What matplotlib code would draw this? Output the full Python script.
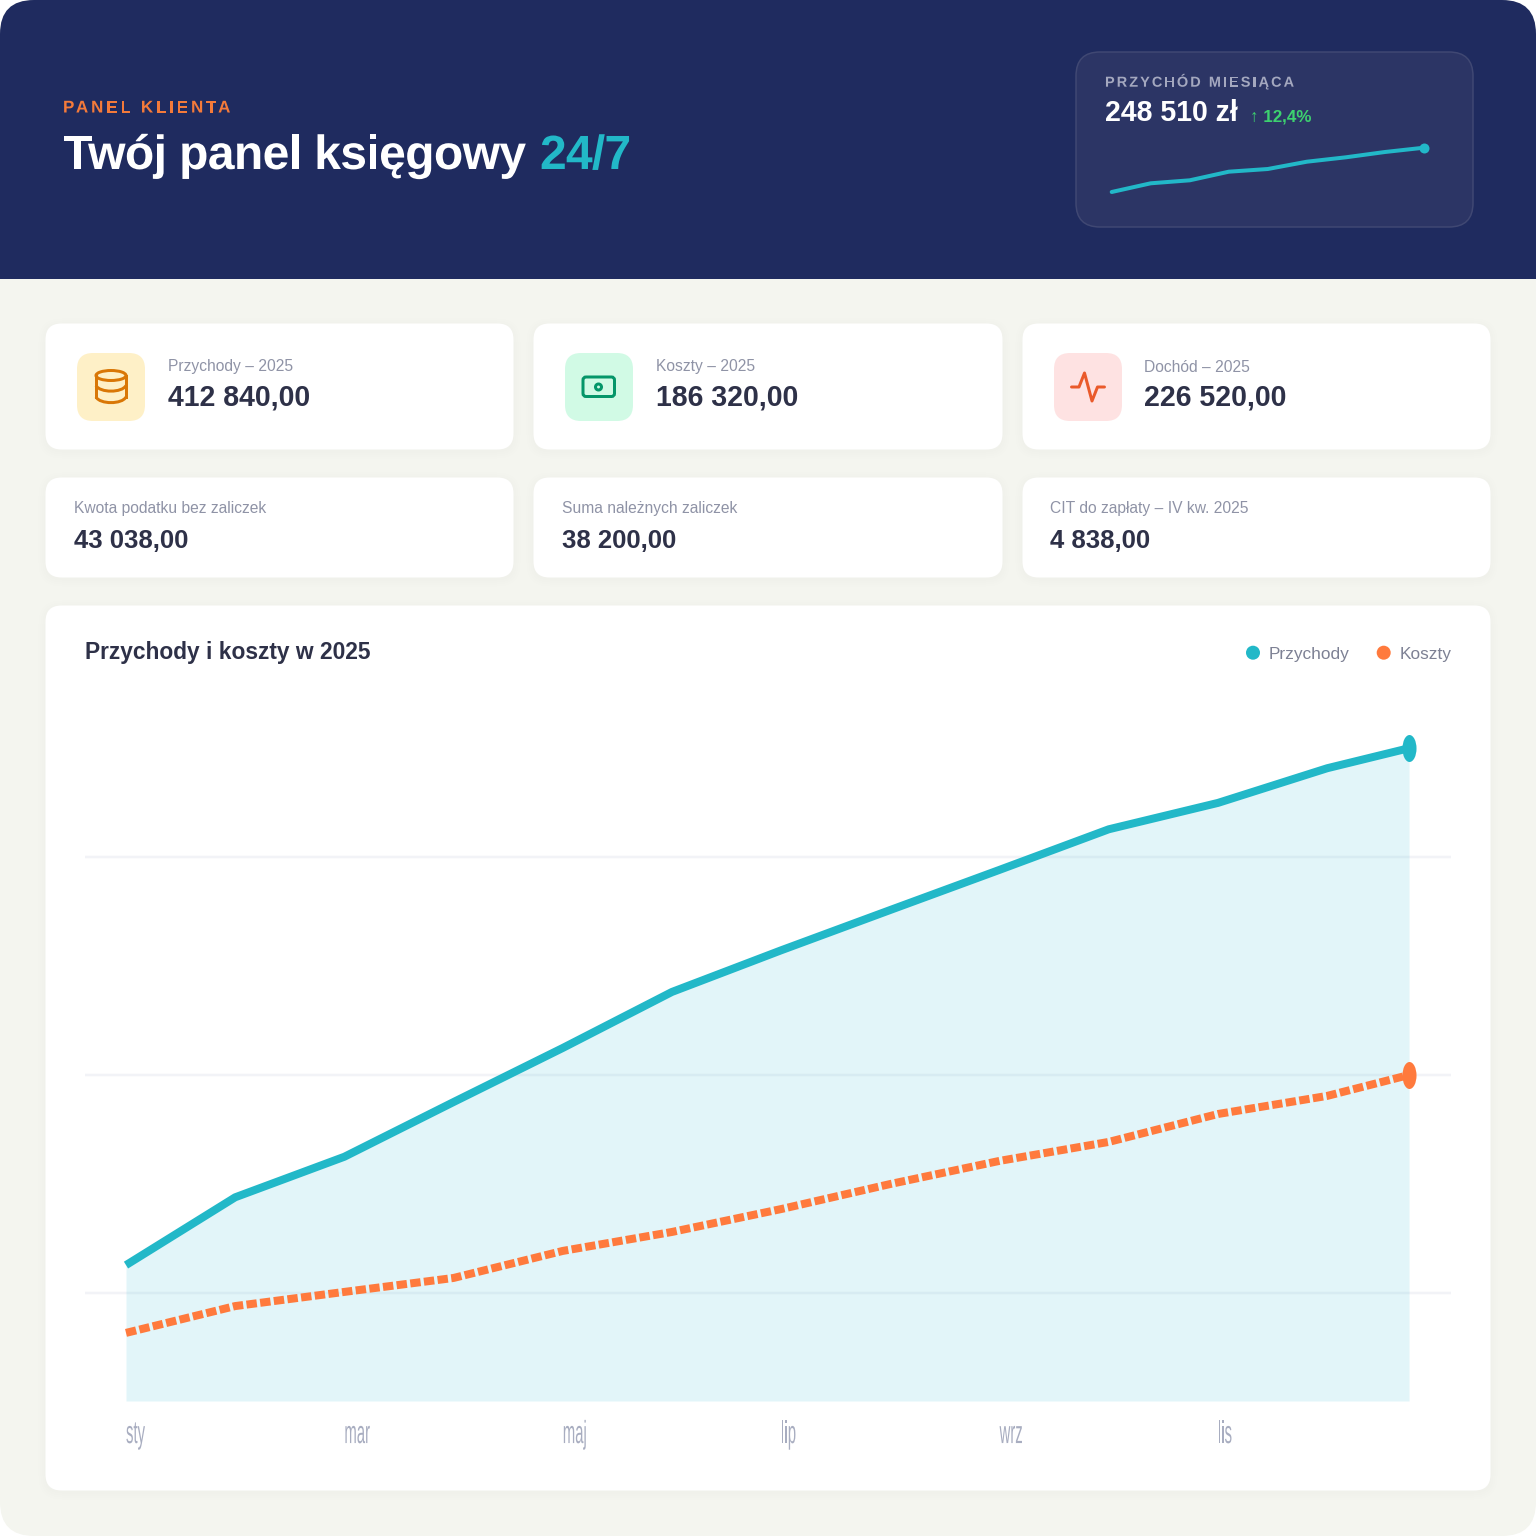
import matplotlib
matplotlib.use("Agg")
import matplotlib.pyplot as plt
from matplotlib.patches import Circle, Ellipse, FancyBboxPatch, PathPatch, Rectangle
from matplotlib.path import Path
from matplotlib.text import Text
from matplotlib.textpath import TextPath, TextToPath
from matplotlib.transforms import Affine2D

plt.rcParams["font.family"] = ["Liberation Sans", "DejaVu Sans"]

# main chart: month number, last point sits just past grudzien
month_pos = [0, 1, 2, 3, 4, 5, 6, 7, 8, 9, 10, 11, 11.75]
przychody = [112.8, 143.9, 162.5, 187.6, 212.4, 238.1, 257.2, 275.7, 294.1, 312.7, 324.8, 340.7, 349.9]
koszty = [81.7, 94.0, 100.5, 106.9, 119.3, 128.0, 138.5, 150.0, 160.6, 169.3, 182.1, 190.4, 200.0]
grid_values = [100, 200, 300]
tick_pos = [0, 2, 4, 6, 8, 10]
tick_labels = ["sty", "mar", "maj", "lip", "wrz", "lis"]

# header sparkline
spark_pos = [0, 1, 2, 3, 4, 5, 6, 7, 8]
spark_values = [204.2, 212.9, 215.9, 224.5, 227.2, 234.5, 238.9, 244.2, 248.5]

top_labels = ["Przychody – 2025", "Koszty – 2025", "Dochód – 2025"]
top_values = ["412 840,00", "186 320,00", "226 520,00"]
low_labels = ["Kwota podatku bez zaliczek", "Suma należnych zaliczek", "CIT do zapłaty – IV kw. 2025"]
low_values = ["43 038,00", "38 200,00", "4 838,00"]

NAVY = "#1f2b5f"
TEAL = "#22b8c8"
ORANGE = "#ff7a3d"
DARK = "#2e3148"
GREY = "#8f93a6"
PAGE = "#f4f5ef"


def px(n):
    # css pixels to points at dpi 100
    return n * 0.72


class LabelText(Text):
    # text with letter spacing and horizontal squeeze, both missing in Text
    tracking = 0
    squeeze = 1

    def draw(self, renderer):
        prop = self.get_fontproperties()
        x, y = self.get_transform().transform(self.get_position())
        k = self.get_figure().dpi / 72
        gc = renderer.new_gc()
        gc.set_linewidth(0)
        measure = TextToPath()
        s = self.get_text()
        for i, ch in enumerate(s):
            if ch == " ":
                continue
            adv = measure.get_text_width_height_descent(s[:i + 1], prop, False)[0]
            adv -= measure.get_text_width_height_descent(ch, prop, False)[0]
            path = TextPath((0, 0), ch, prop=prop)
            pen = x + (adv * k + i * self.tracking) * self.squeeze
            tr = Affine2D().scale(k * self.squeeze, k).translate(pen, y)
            renderer.draw_path(gc, path, tr, matplotlib.colors.to_rgba(self.get_color()))
        gc.restore()


def label(ax, x, y, s, size, color, weight="normal", tracking=0, squeeze=1, transform=None):
    t = LabelText(x, y, s, fontsize=px(size), color=color, fontweight=weight, va="baseline")
    t.tracking = tracking
    t.squeeze = squeeze
    if transform is not None:
        t.set_transform(transform)
    ax.add_artist(t)
    return t


def text(ax, x, y, s, size, color, weight="normal"):
    ax.text(x, y, s, fontsize=px(size), color=color, fontweight=weight, va="baseline")


def box(ax, x0, y0, x1, y1, r, **kw):
    patch = FancyBboxPatch(
        (x0, y0), x1 - x0, y1 - y0,
        boxstyle=f"round,pad=0,rounding_size={r}",
        mutation_aspect=1,
        **kw
    )
    ax.add_patch(patch)
    return patch


def card(ax, x0, y0, x1, y1):
    for grow in [7, 5, 3, 1]:
        box(ax, x0 - grow, y0 - grow + 2, x1 + grow, y1 + grow + 2, 16 + grow,
            fc="#1f2b5f", ec="none", alpha=0.005)
    box(ax, x0, y0, x1, y1, 16, fc="white", ec="none")


fig = plt.figure(figsize=(15.36, 15.36), dpi=100, facecolor="white")

bg = fig.add_axes([0, 0, 1, 1])
bg.set_xlim(0, 1536)
bg.set_ylim(1536, 0)
bg.axis("off")

page = box(bg, 0, 0, 1536, 1536, 34, fc=PAGE, ec="none")
header = Rectangle((0, 0), 1536, 279, fc=NAVY, ec="none")
bg.add_patch(header)
header.set_clip_path(page)

# header texts
label(bg, 63, 112.5, "PANEL KLIENTA", 17, "#f47a3a", "bold", tracking=2.85)
label(bg, 63, 169, "Twój panel księgowy", 48, "white", "bold", tracking=-0.6)
label(bg, 540, 169, "24/7", 48, TEAL, "bold", tracking=-0.75)

# header panel with sparkline
box(bg, 1076, 52, 1473, 227, 24, fc="#2c3565", ec="#404873", lw=px(1.5))
label(bg, 1105, 86.7, "PRZYCHÓD MIESIĄCA", 14.5, "#a4a8bf", "bold", tracking=2.05)
text(bg, 1105, 121, "248 510 zł", 28.5, "white", "bold")
text(bg, 1250, 121, "↑ 12,4%", 17, "#3dd16f", "bold")

spark = fig.add_axes([1111.7 / 1536, 1 - 200 / 1536, (1424 - 1111.7) / 1536, 60 / 1536])
spark.set_xlim(0, 8)
spark.set_ylim(196.2, 256.2)
spark.axis("off")
spark.plot(spark_pos, spark_values, color=TEAL, lw=px(4), solid_capstyle="round",
           solid_joinstyle="round", clip_on=False)
spark.plot(spark_pos[-1:], spark_values[-1:], "o", color=TEAL, ms=px(10), mew=0, clip_on=False)

# kpi cards
col_x = [(45.5, 513.5), (533.5, 1002.5), (1022.5, 1490.5)]
tile_x = [77, 565, 1054]
tile_fill = ["#fef0c7", "#d1fae5", "#fee2e2"]
text_x = [168, 656, 1144.5]
low_x = [74, 562, 1050.5]

for i, (x0, x1) in enumerate(col_x):
    card(bg, x0, 323.5, x1, 449.5)
    box(bg, tile_x[i], 353, tile_x[i] + 68, 421, 16, fc=tile_fill[i], ec="none")
    text(bg, text_x[i], 371.5, top_labels[i], 15.65, GREY)
    text(bg, text_x[i], 406, top_values[i], 28.5, DARK, "bold")
    card(bg, x0, 477.5, x1, 577.5)
    text(bg, low_x[i], 513.5, low_labels[i], 15.65, GREY)
    text(bg, low_x[i], 548.3, low_values[i], 25.7, DARK, "bold")

# database icon
ORANGE_ICON = "#d97706"
lw_icon = px(3)
bg.add_patch(Ellipse((111, 375.5), 30, 10, fc="none", ec=ORANGE_ICON, lw=lw_icon))
bg.plot([96, 96], [375.5, 397], color=ORANGE_ICON, lw=lw_icon)
bg.plot([126, 126], [375.5, 397], color=ORANGE_ICON, lw=lw_icon)
for y_arc in [385.5, 397]:
    arc = Path([(96, y_arc), (100, y_arc + 7.5), (122, y_arc + 7.5), (126, y_arc)],
               [Path.MOVETO, Path.CURVE4, Path.CURVE4, Path.CURVE4])
    bg.add_patch(PathPatch(arc, fc="none", ec=ORANGE_ICON, lw=lw_icon))

# banknote icon
GREEN_ICON = "#059669"
box(bg, 583, 377, 614.5, 396.5, 3, fc="none", ec=GREEN_ICON, lw=lw_icon)
bg.add_patch(Circle((598.5, 387), 3, fc="none", ec=GREEN_ICON, lw=lw_icon))

# activity icon
bg.plot([1071.5, 1079, 1084.5, 1092, 1097.5, 1104.5], [387, 387, 373, 401, 387, 387],
        color="#ea5a2b", lw=lw_icon, solid_joinstyle="round", solid_capstyle="round")

# chart card
card(bg, 45.5, 605.5, 1490.5, 1490.5)
text(bg, 85, 659, "Przychody i koszty w 2025", 22.8, DARK, "bold")
bg.add_patch(Circle((1253, 652.7), 7, fc=TEAL, ec="none"))
text(bg, 1269, 659, "Przychody", 17.2, "#7d8194")
bg.add_patch(Circle((1383.7, 652.7), 7, fc=ORANGE, ec="none"))
text(bg, 1400, 659, "Koszty", 17.2, "#7d8194")

ax = fig.add_axes([85 / 1536, 1 - 1401 / 1536, (1451 - 85) / 1536, 701 / 1536])
ax.patch.set_alpha(0)
ax.set_xlim(-0.3755, 12.134)
ax.set_ylim(50.46, 372)
for side in ax.spines.values():
    side.set_visible(False)
ax.set_xticks([])
ax.set_yticks(grid_values)
ax.set_yticklabels([])
ax.tick_params(length=0)
ax.grid(axis="y", color="#f2f3f7", lw=px(2.5))
ax.set_axisbelow(True)

ax.fill_between(month_pos, przychody, 50.46, color="#1fb4d4", alpha=0.125, lw=0)
ax.plot(month_pos, przychody, color=TEAL, lw=px(8), solid_capstyle="butt", solid_joinstyle="round")
ax.plot(month_pos, koszty, color=ORANGE, lw=px(8), dash_capstyle="butt",
        linestyle=(0, (1.3, 0.42)), dash_joinstyle="round")

# end markers are stretched by the chart, twice as tall as wide
tall = Path.unit_circle().transformed(Affine2D().scale(0.52, 1))
ax.plot(month_pos[-1:], przychody[-1:], marker=tall, color=TEAL, ms=px(27), mew=0, clip_on=False)
ax.plot(month_pos[-1:], koszty[-1:], marker=tall, color=ORANGE, ms=px(27), mew=0, clip_on=False)

for pos, lab in zip(tick_pos, tick_labels):
    label(ax, pos, -0.06, lab, 32, "#a8adc0", squeeze=0.465, transform=ax.get_xaxis_transform())

fig.savefig("out.png", dpi=100)
